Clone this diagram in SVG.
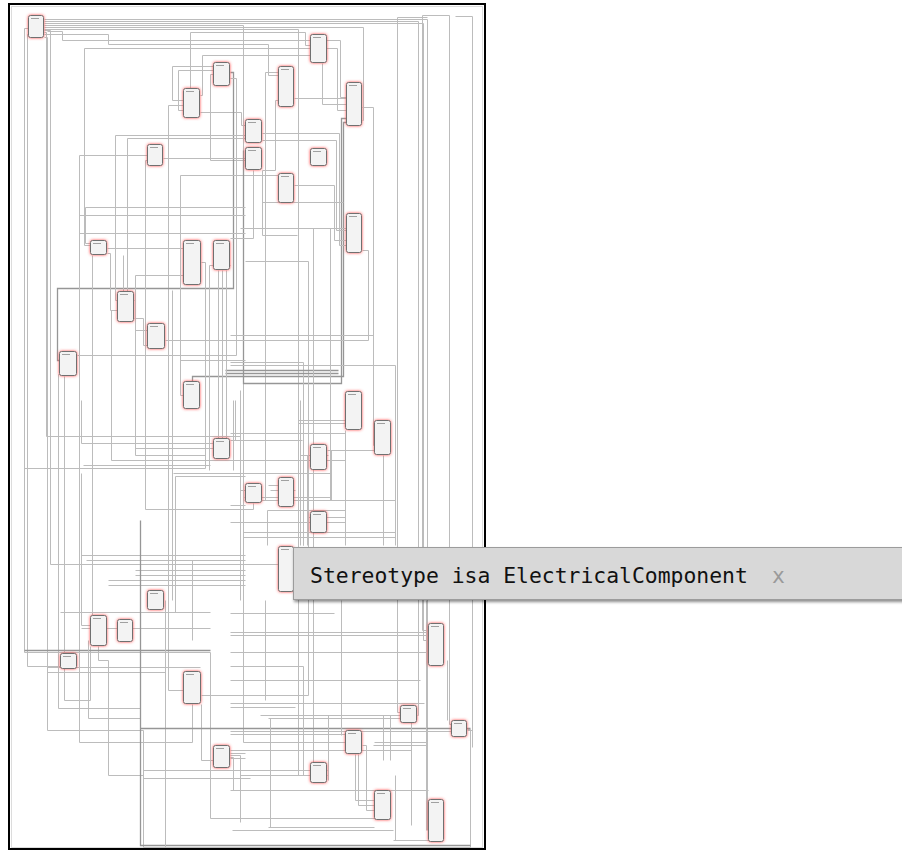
<svg xmlns="http://www.w3.org/2000/svg" width="902" height="851" viewBox="0 0 902 851">
<defs>
<style>
.c{fill:none;stroke:#bcbcbc;stroke-width:1}
.d{fill:none;stroke:#969696;stroke-width:1.3}
.n .b{fill:#f3f3f3;stroke:#6f6f6f;stroke-width:1;filter:url(#glow)}
.n .h{stroke:#a0a0a0;stroke-width:1}
.tt{font-family:"DejaVu Sans Mono","Liberation Mono",monospace;font-size:21.4px}
</style>
<filter id="glow" x="-50%" y="-50%" width="200%" height="200%">
<feDropShadow dx="0" dy="0" stdDeviation="1.6" flood-color="#ff4a4a" flood-opacity="1"/>
</filter>
<filter id="sh" x="-5%" y="-30%" width="110%" height="170%">
<feDropShadow dx="1" dy="2" stdDeviation="1.8" flood-color="#000" flood-opacity="0.45"/>
</filter>
</defs>
<rect width="902" height="851" fill="#fff"/>
<rect x="11.5" y="6.5" width="471" height="841" fill="none" stroke="#dcdcdc"/>
<rect x="9" y="4" width="476" height="845" fill="none" stroke="#000" stroke-width="2"/>

<g id="connectors" transform="translate(0.5,0.5)">
<path class="c" d="M44,19 H427 V830"/>
<path class="c" d="M44,21 H418 V715 H417"/>
<path class="c" d="M44,23 H423 V640 H428"/>
<path class="c" d="M44,25 H243 V742 H345"/>
<path class="c" d="M44,27 H363 V120 H362"/>
<path class="c" d="M44,29 H298 V775 H310"/>
<path class="c" d="M47,31 H62 V40 H340 V97 H346"/>
<path class="c" d="M44,34 H108 V44 H268 V75 H278"/>
<path class="c" d="M28,28 H24 V652 H210 V818 H374"/>
<path class="c" d="M28,34 H27 V666 H60"/>
<path class="c" d="M44,37 H47 V730 H143 V847 H470 V729 H467"/>
<path class="c" d="M44,30 H50 V564 H278"/>
<path class="c" d="M44,32 H46 V436 H240 V490 H245"/>
<path class="c" d="M90,245 H84 V48 H337 V110 H346"/>
<path class="c" d="M190,88 V32 H305 V45 H310"/>
<path class="c" d="M213,66 H172 V100 H183"/>
<path class="c" d="M183,105 H168 V690 H183"/>
<path class="c" d="M213,70 H178 V110 H183"/>
<path class="c" d="M200,112 H241 V125 H245"/>
<path class="c" d="M200,95 H202 V55 H310"/>
<path class="c" d="M213,74 H210 V160 H245"/>
<path class="d" d="M230,72 H233 V288 H57 V360 H59"/>
<path class="c" d="M230,78 H236 V355 H77"/>
<path class="c" d="M117,300 H115 V135 H245"/>
<path class="c" d="M127,291 V138 H245"/>
<path class="c" d="M147,160 H145 V509 H253 V503"/>
<path class="c" d="M147,155 H79 V742 H192 V704"/>
<path class="c" d="M163,158 H245"/>
<path class="c" d="M183,395 H180 V175 H278"/>
<path class="c" d="M294,98 H346"/>
<path class="c" d="M362,107 H373 V445 H374"/>
<path class="c" d="M322,63 V104 H346"/>
<path class="c" d="M278,72 H265 V500 H278"/>
<path class="c" d="M278,100 H275 V170 H262"/>
<path class="d" d="M346,118 H341 V383 H243 V150"/>
<path class="d" d="M346,122 H343 V376 H192 V381"/>
<path class="c" d="M262,133 H339 V245 H346"/>
<path class="c" d="M262,140 H336 V230 H346"/>
<path class="c" d="M294,185 H334 V240 H346"/>
<path class="c" d="M400,712 H397 V17 H427"/>
<path class="c" d="M451,724 H449 V15 H422 V630 H428"/>
<path class="c" d="M467,730 H472 V16 H455"/>
<path class="c" d="M262,202 H343"/>
<path class="c" d="M245,261 H308 V695 H201"/>
<path class="c" d="M230,335 H373"/>
<path class="c" d="M362,250 H368 V340 H230"/>
<path class="c" d="M230,362 H303 V545"/>
<path class="c" d="M230,365 H395 V545"/>
<path class="d" d="M225,370 H338"/>
<path class="d" d="M225,373 H338"/>
<path class="c" d="M313,228 V780"/>
<path class="c" d="M330,228 V500"/>
<path class="c" d="M240,228 H346"/>
<path class="c" d="M253,170 V238 H230"/>
<path class="c" d="M262,170 V235 H297"/>
<path class="c" d="M90,243 H85 V207 H245"/>
<path class="c" d="M79,215 H245"/>
<path class="c" d="M79,233 H245"/>
<path class="c" d="M107,248 H183"/>
<path class="c" d="M107,253 H110 V310 H117"/>
<path class="c" d="M123,255 V291"/>
<path class="c" d="M183,275 H135 V330 H147"/>
<path class="c" d="M165,340 H245"/>
<path class="c" d="M180,360 H245"/>
<path class="c" d="M134,318 H143 V345 H147"/>
<path class="c" d="M201,262 H205 V468 H24"/>
<path class="c" d="M230,265 H209 V470"/>
<path class="c" d="M173,473 H245"/>
<path class="c" d="M175,476 H245"/>
<path class="c" d="M172,290 V600"/>
<path class="c" d="M175,476 V612"/>
<path class="c" d="M240,390 V600"/>
<path class="c" d="M81,400 V443 H213"/>
<path class="c" d="M81,473 V625 H90"/>
<path class="c" d="M135,448 H213"/>
<path class="c" d="M134,300 H135 V455 H205"/>
<path class="c" d="M117,310 H111 V460 H245"/>
<path class="c" d="M83,465 H210"/>
<path class="c" d="M81,555 H245"/>
<path class="c" d="M86,560 H245"/>
<path class="c" d="M135,570 H245"/>
<path class="c" d="M135,575 H245"/>
<path class="c" d="M59,374 H58 V708 H140"/>
<path class="c" d="M64,376 V700 H90 V646"/>
<path class="c" d="M108,585 H245"/>
<path class="c" d="M108,580 H245"/>
<path class="c" d="M98,646 V660 H108 V775 H143"/>
<path class="c" d="M92,255 V615"/>
<path class="c" d="M218,270 V438"/>
<path class="c" d="M222,270 V438"/>
<path class="c" d="M226,270 V438"/>
<path class="c" d="M235,400 V440"/>
<path class="c" d="M298,420 H345"/>
<path class="c" d="M298,423 H345"/>
<path class="c" d="M230,433 H345"/>
<path class="c" d="M230,440 H302"/>
<path class="c" d="M327,450 H374"/>
<path class="c" d="M300,455 H328"/>
<path class="c" d="M230,460 H345"/>
<path class="c" d="M230,473 H331"/>
<path class="c" d="M268,485 H278"/>
<path class="c" d="M270,490 H295"/>
<path class="c" d="M244,497 H330"/>
<path class="c" d="M244,500 H395"/>
<path class="c" d="M230,505 H245"/>
<path class="c" d="M267,510 H345"/>
<path class="c" d="M308,517 H345"/>
<path class="c" d="M230,522 H345"/>
<path class="c" d="M243,532 H395"/>
<path class="c" d="M243,537 H395"/>
<path class="c" d="M300,400 V545"/>
<path class="c" d="M303,420 V545"/>
<path class="c" d="M307,455 V545"/>
<path class="c" d="M331,450 V500"/>
<path class="c" d="M345,430 V545"/>
<path class="c" d="M383,455 V545"/>
<path class="c" d="M243,505 V537"/>
<path class="c" d="M267,510 V545"/>
<path class="c" d="M233,400 V470"/>
<path class="c" d="M60,612 H210"/>
<path class="c" d="M81,628 H210"/>
<path class="d" d="M24,650 H210"/>
<path class="c" d="M47,667 H200"/>
<path class="c" d="M47,672 H165"/>
<path class="c" d="M88,640 V718 H140"/>
<path class="d" d="M140,520 V845 H470"/>
<path class="c" d="M165,600 V847"/>
<path class="c" d="M192,560 V640"/>
<path class="c" d="M201,704 V760 H213"/>
<path class="c" d="M230,757 H233 V790"/>
<path class="c" d="M230,755 H240 V822"/>
<path class="c" d="M143,770 H327"/>
<path class="c" d="M143,778 H250"/>
<path class="c" d="M230,613 H334"/>
<path class="c" d="M230,632 H428"/>
<path class="c" d="M230,635 H428"/>
<path class="c" d="M230,652 H428"/>
<path class="c" d="M230,666 H303"/>
<path class="c" d="M230,680 H420"/>
<path class="c" d="M230,703 H424"/>
<path class="c" d="M230,707 H295"/>
<path class="c" d="M260,715 H400"/>
<path class="c" d="M268,718 H400"/>
<path class="d" d="M140,728 H470"/>
<path class="c" d="M230,731 H451"/>
<path class="c" d="M230,734 H345"/>
<path class="c" d="M374,742 H427"/>
<path class="c" d="M373,745 H427"/>
<path class="c" d="M230,750 H411"/>
<path class="c" d="M230,753 H245"/>
<path class="c" d="M230,758 H245"/>
<path class="c" d="M240,775 H327"/>
<path class="c" d="M230,790 H428"/>
<path class="c" d="M268,827 H374"/>
<path class="c" d="M232,830 H393"/>
<path class="c" d="M393,840 H428"/>
<path class="c" d="M265,600 V700"/>
<path class="c" d="M270,718 V827"/>
<path class="c" d="M303,666 V775"/>
<path class="c" d="M328,715 V780"/>
<path class="c" d="M341,600 V735"/>
<path class="c" d="M355,754 V800 H374"/>
<path class="c" d="M358,754 V805 H374"/>
<path class="c" d="M362,745 H366 V810 H374"/>
<path class="c" d="M383,715 V760"/>
<path class="c" d="M390,715 V760"/>
<path class="c" d="M395,775 V840"/>
<path class="c" d="M411,705 V825"/>
<path class="c" d="M426,600 V830"/>
<path class="c" d="M447,660 V720"/>
<path class="c" d="M472,600 V747"/>
</g>

<g id="nodes">
<g id="n1" class="n" transform="translate(28,15)"><rect class="b" x=".5" y=".5" width="15" height="22" rx="2"/><path class="h" d="M3,3.5h8"/></g>
<g id="n2" class="n" transform="translate(213,62)"><rect class="b" x=".5" y=".5" width="16" height="23" rx="2"/><path class="h" d="M3,3.5h8"/></g>
<g id="n3" class="n" transform="translate(183,88)"><rect class="b" x=".5" y=".5" width="16" height="29" rx="2"/><path class="h" d="M3,3.5h8"/></g>
<g id="n4" class="n" transform="translate(147,144)"><rect class="b" x=".5" y=".5" width="15" height="21" rx="2"/><path class="h" d="M3,3.5h8"/></g>
<g id="n5" class="n" transform="translate(310,34)"><rect class="b" x=".5" y=".5" width="16" height="28" rx="2"/><path class="h" d="M3,3.5h8"/></g>
<g id="n6" class="n" transform="translate(278,66)"><rect class="b" x=".5" y=".5" width="15" height="40" rx="2"/><path class="h" d="M3,3.5h8"/></g>
<g id="n7" class="n" transform="translate(346,82)"><rect class="b" x=".5" y=".5" width="15" height="43" rx="2"/><path class="h" d="M3,3.5h8"/></g>
<g id="n8" class="n" transform="translate(245,119)"><rect class="b" x=".5" y=".5" width="16" height="23" rx="2"/><path class="h" d="M3,3.5h8"/></g>
<g id="n9" class="n" transform="translate(245,147)"><rect class="b" x=".5" y=".5" width="16" height="22" rx="2"/><path class="h" d="M3,3.5h8"/></g>
<g id="n10" class="n" transform="translate(310,148)"><rect class="b" x=".5" y=".5" width="16" height="17" rx="2"/><path class="h" d="M3,3.5h8"/></g>
<g id="n11" class="n" transform="translate(278,173)"><rect class="b" x=".5" y=".5" width="15" height="29" rx="2"/><path class="h" d="M3,3.5h8"/></g>
<g id="n12" class="n" transform="translate(90,240)"><rect class="b" x=".5" y=".5" width="16" height="14" rx="2"/><path class="h" d="M3,3.5h8"/></g>
<g id="n13" class="n" transform="translate(183,240)"><rect class="b" x=".5" y=".5" width="17" height="44" rx="2"/><path class="h" d="M3,3.5h8"/></g>
<g id="n14" class="n" transform="translate(213,240)"><rect class="b" x=".5" y=".5" width="16" height="29" rx="2"/><path class="h" d="M3,3.5h8"/></g>
<g id="n15" class="n" transform="translate(117,291)"><rect class="b" x=".5" y=".5" width="16" height="30" rx="2"/><path class="h" d="M3,3.5h8"/></g>
<g id="n16" class="n" transform="translate(147,323)"><rect class="b" x=".5" y=".5" width="17" height="25" rx="2"/><path class="h" d="M3,3.5h8"/></g>
<g id="n17" class="n" transform="translate(59,351)"><rect class="b" x=".5" y=".5" width="17" height="24" rx="2"/><path class="h" d="M3,3.5h8"/></g>
<g id="n18" class="n" transform="translate(183,381)"><rect class="b" x=".5" y=".5" width="16" height="27" rx="2"/><path class="h" d="M3,3.5h8"/></g>
<g id="n19" class="n" transform="translate(346,213)"><rect class="b" x=".5" y=".5" width="15" height="39" rx="2"/><path class="h" d="M3,3.5h8"/></g>
<g id="n20" class="n" transform="translate(345,391)"><rect class="b" x=".5" y=".5" width="16" height="38" rx="2"/><path class="h" d="M3,3.5h8"/></g>
<g id="n21" class="n" transform="translate(213,438)"><rect class="b" x=".5" y=".5" width="16" height="20" rx="2"/><path class="h" d="M3,3.5h8"/></g>
<g id="n22" class="n" transform="translate(245,483)"><rect class="b" x=".5" y=".5" width="16" height="19" rx="2"/><path class="h" d="M3,3.5h8"/></g>
<g id="n23" class="n" transform="translate(147,590)"><rect class="b" x=".5" y=".5" width="16" height="19" rx="2"/><path class="h" d="M3,3.5h8"/></g>
<g id="n24" class="n" transform="translate(374,420)"><rect class="b" x=".5" y=".5" width="16" height="34" rx="2"/><path class="h" d="M3,3.5h8"/></g>
<g id="n25" class="n" transform="translate(310,444)"><rect class="b" x=".5" y=".5" width="16" height="25" rx="2"/><path class="h" d="M3,3.5h8"/></g>
<g id="n26" class="n" transform="translate(278,477)"><rect class="b" x=".5" y=".5" width="15" height="29" rx="2"/><path class="h" d="M3,3.5h8"/></g>
<g id="n27" class="n" transform="translate(310,511)"><rect class="b" x=".5" y=".5" width="16" height="21" rx="2"/><path class="h" d="M3,3.5h8"/></g>
<g id="n28" class="n" transform="translate(278,546)"><rect class="b" x=".5" y=".5" width="15" height="45" rx="2"/><path class="h" d="M3,3.5h8"/></g>
<g id="n29" class="n" transform="translate(90,615)"><rect class="b" x=".5" y=".5" width="16" height="30" rx="2"/><path class="h" d="M3,3.5h8"/></g>
<g id="n30" class="n" transform="translate(117,619)"><rect class="b" x=".5" y=".5" width="15" height="22" rx="2"/><path class="h" d="M3,3.5h8"/></g>
<g id="n31" class="n" transform="translate(60,653)"><rect class="b" x=".5" y=".5" width="16" height="15" rx="2"/><path class="h" d="M3,3.5h8"/></g>
<g id="n32" class="n" transform="translate(183,671)"><rect class="b" x=".5" y=".5" width="17" height="32" rx="2"/><path class="h" d="M3,3.5h8"/></g>
<g id="n33" class="n" transform="translate(213,745)"><rect class="b" x=".5" y=".5" width="16" height="22" rx="2"/><path class="h" d="M3,3.5h8"/></g>
<g id="n34" class="n" transform="translate(428,623)"><rect class="b" x=".5" y=".5" width="15" height="42" rx="2"/><path class="h" d="M3,3.5h8"/></g>
<g id="n35" class="n" transform="translate(400,705)"><rect class="b" x=".5" y=".5" width="16" height="17" rx="2"/><path class="h" d="M3,3.5h8"/></g>
<g id="n36" class="n" transform="translate(451,720)"><rect class="b" x=".5" y=".5" width="15" height="16" rx="2"/><path class="h" d="M3,3.5h8"/></g>
<g id="n37" class="n" transform="translate(345,730)"><rect class="b" x=".5" y=".5" width="16" height="23" rx="2"/><path class="h" d="M3,3.5h8"/></g>
<g id="n38" class="n" transform="translate(310,762)"><rect class="b" x=".5" y=".5" width="16" height="20" rx="2"/><path class="h" d="M3,3.5h8"/></g>
<g id="n39" class="n" transform="translate(374,790)"><rect class="b" x=".5" y=".5" width="16" height="29" rx="2"/><path class="h" d="M3,3.5h8"/></g>
<g id="n40" class="n" transform="translate(428,799)"><rect class="b" x=".5" y=".5" width="15" height="42" rx="2"/><path class="h" d="M3,3.5h8"/></g>
</g>

<g id="tooltip">
<rect x="293.5" y="547.5" width="620" height="52" fill="#d8d8d8" stroke="#9c9c9c" filter="url(#sh)"/>
<text class="tt" x="310" y="583" fill="#111">Stereotype isa ElectricalComponent</text>
<text class="tt" x="772" y="583" fill="#9a9a9a">x</text>
</g>
</svg>
